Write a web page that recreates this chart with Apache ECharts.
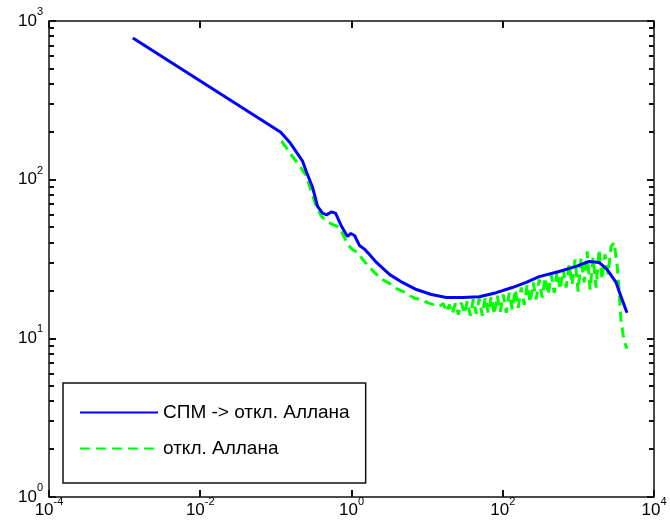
<!DOCTYPE html>
<html>
<head>
<meta charset="utf-8">
<script src="https://cdn.jsdelivr.net/npm/echarts@6/dist/echarts.min.js"></script>
<style>
  html, body { margin: 0; padding: 0; background: #fff; }
  #chart { width: 670px; height: 529px; }
</style>
</head>
<body>
<div id="chart"></div>
<script>
// СПМ -> откл. Аллана (blue, solid)
const blueX = [0.001285, 0.116, 0.1519, 0.2255, 0.2546, 0.3056, 0.3557, 0.4143, 0.468, 0.54, 0.615,
  0.7379, 0.8855, 0.98, 1.096, 1.275, 1.484, 1.728, 2.138, 3.174, 4.713, 7.213, 11.38, 17.96, 29.19,
  48.94, 82.06, 133.4, 204.3, 303.2, 556.8, 933.8, 1387, 1878, 2395, 3149, 3778, 4398]
const blueY = [782, 199, 172.3, 130.7, 111.4, 89.5, 67.9, 61.5, 60.0, 62.5, 61.5,
  50.8, 43.9, 45.8, 44.5, 38.5, 36.5, 33.8, 30.1, 25.3, 22.5, 20.3, 18.9, 18.1, 18.1,
  18.3, 19.4, 20.9, 22.5, 24.5, 26.4, 28.4, 30.5, 30.1, 27.2, 22.5, 17.6, 14.5]

// откл. Аллана (green, dashed)
const greenX = [0.1191, 0.1474, 0.1768, 0.2122, 0.2546, 0.2963, 0.3451, 0.4018, 0.4677, 0.5613, 0.6944,
  0.7843, 0.8855, 1.031, 1.200, 1.440, 1.728, 2.138, 2.566, 3.174, 3.928, 4.859, 5.832, 6.998, 8.398,
  10.08, 12.09, 14.51, 16.39, 17.96, 19.67, 21.54, 23.60, 25.85, 28.32, 31.02, 33.98, 37.23, 40.78,
  44.67, 48.94, 53.61, 58.72, 64.33, 70.47, 77.20, 84.57, 92.65, 101.5, 111.2, 121.8, 133.4, 146.2,
  160.1, 175.4, 192.2, 210.5, 230.7, 252.7, 276.8, 303.2, 332.2, 363.9, 398.6, 436.7, 478.4, 524.1,
  574.1, 628.9, 688.9, 754.7, 826.7, 905.6, 992.0, 1087, 1190, 1304, 1428, 1565, 1714, 1878, 2057,
  2254, 2469, 2705, 2963, 3246, 3449, 3665, 3895, 4140, 4398]
const greenY = [174.8, 151.1, 134.5, 119.8, 105.1, 83.2, 66.9, 58.7, 54.6, 52.3, 50.0,
  44.5, 39.1, 36.3, 34.8, 31.0, 28.0, 25.3, 23.5, 22.2, 20.6, 19.7, 18.6, 17.8, 17.6,
  16.8, 16.3, 15.9, 16.6, 14.7, 16.3, 14.3, 16.6, 14.1, 16.8, 14.3, 17.1, 13.9, 17.6,
  14.3, 17.8, 13.9, 18.1, 14.5, 18.3, 14.1, 18.6, 14.7, 18.9, 14.5, 19.4, 15.2, 20.3,
  15.6, 20.9, 16.3, 21.8, 16.8, 22.5, 17.6, 23.5, 18.1, 24.2, 18.9, 25.3, 19.4, 26.4,
  20.3, 27.2, 20.9, 29.2, 21.8, 31.4, 19.7, 32.3, 22.5, 35.3, 20.3, 32.3, 20.9, 36.3, 23.5,
  33.8, 25.3, 37.9, 40.2, 29.2, 20.3, 12.8, 10.6, 9.26, 8.61]

// minor ticks of the log y axis
const yMinor = [2, 3, 4, 5, 6, 7, 8, 9, 20, 30, 40, 50, 60, 70, 80, 90, 200, 300, 400, 500, 600, 700, 800, 900]

const font = 'Liberation Sans'
const rich = {
  b: { fontSize: 17, lineHeight: 29, fontFamily: font, color: '#000' },
  e: { fontSize: 11, lineHeight: 11, verticalAlign: 'top', fontFamily: font, color: '#000' }
}
function powLabel(v) {
  return '{b|10}{e|' + Math.round(Math.log10(v)) + '}'
}

// x axis: base 100 so ticks fall on every second decade
function xAxisOf(pos, showLabel) {
  return {
    type: 'log',
    logBase: 100,
    position: pos,
    min: 1e-4,
    max: 1e4,
    axisLine: { show: true, onZero: false, lineStyle: { color: '#111', width: 1.5 } },
    axisTick: { show: true, inside: true, length: 7, lineStyle: { color: '#111', width: 2 } },
    axisLabel: { show: showLabel, margin: -1, formatter: powLabel, rich: rich },
    splitLine: { show: false }
  }
}
function yAxisOf(pos, showLabel) {
  return {
    type: 'log',
    logBase: 10,
    position: pos,
    min: 1,
    max: 1000,
    axisLine: { show: true, onZero: false, lineStyle: { color: '#111', width: 1.5 } },
    axisTick: { show: true, inside: true, length: 7, lineStyle: { color: '#111', width: 2 } },
    axisLabel: { show: showLabel, margin: 6, formatter: powLabel, rich: rich },
    splitLine: { show: false }
  }
}

const chart = echarts.init(document.getElementById('chart'))
chart.setOption({
  animation: false,
  backgroundColor: '#fff',
  grid: { left: 49, right: 16, top: 21, bottom: 32 },
  legend: {
    orient: 'vertical',
    left: 63,
    top: 383,
    backgroundColor: '#fff',
    borderColor: '#111',
    borderWidth: 1.5,
    borderRadius: 0,
    padding: [20, 16, 25, 16],
    itemGap: 17,
    itemWidth: 78,
    itemHeight: 14,
    itemStyle: { color: 'rgba(0,0,0,0)', borderColor: 'rgba(0,0,0,0)', borderWidth: 0 },
    textStyle: { fontSize: 19, fontFamily: font, color: '#000' },
    data: ['СПМ -> откл. Аллана', 'откл. Аллана']
  },
  xAxis: [xAxisOf('bottom', true), xAxisOf('top', false)],
  yAxis: [yAxisOf('left', true), yAxisOf('right', false)],
  series: [
    {
      name: 'откл. Аллана',
      type: 'line',
      xAxisIndex: 0,
      yAxisIndex: 0,
      symbol: 'none',
      z: 2,
      lineStyle: { color: '#00ff00', width: 3, type: [10, 6] },
      itemStyle: { color: '#00ff00' },
      data: greenX.map((x, i) => [x, greenY[i]])
    },
    {
      name: 'СПМ -> откл. Аллана',
      type: 'line',
      xAxisIndex: 0,
      yAxisIndex: 0,
      symbol: 'none',
      z: 3,
      lineStyle: { color: '#0000ff', width: 3 },
      itemStyle: { color: '#0000ff' },
      data: blueX.map((x, i) => [x, blueY[i]])
    },
    {
      // minor ticks, on both sides of the box
      type: 'custom',
      xAxisIndex: 0,
      yAxisIndex: 0,
      silent: true,
      clip: false,
      z: 5,
      renderItem: (params, api) => {
        let v = api.value(1)
        let l = api.coord([1e-4, v])
        let r = api.coord([1e4, v])
        let y = Math.round(l[1])
        return {
          type: 'group',
          children: [
            { type: 'line', shape: { x1: l[0], y1: y, x2: l[0] + 5, y2: y }, style: { stroke: '#111', lineWidth: 2 } },
            { type: 'line', shape: { x1: r[0] - 5, y1: y, x2: r[0], y2: y }, style: { stroke: '#111', lineWidth: 2 } }
          ]
        }
      },
      data: yMinor.map(v => [1e-4, v])
    }
  ]
})
</script>
</body>
</html>
